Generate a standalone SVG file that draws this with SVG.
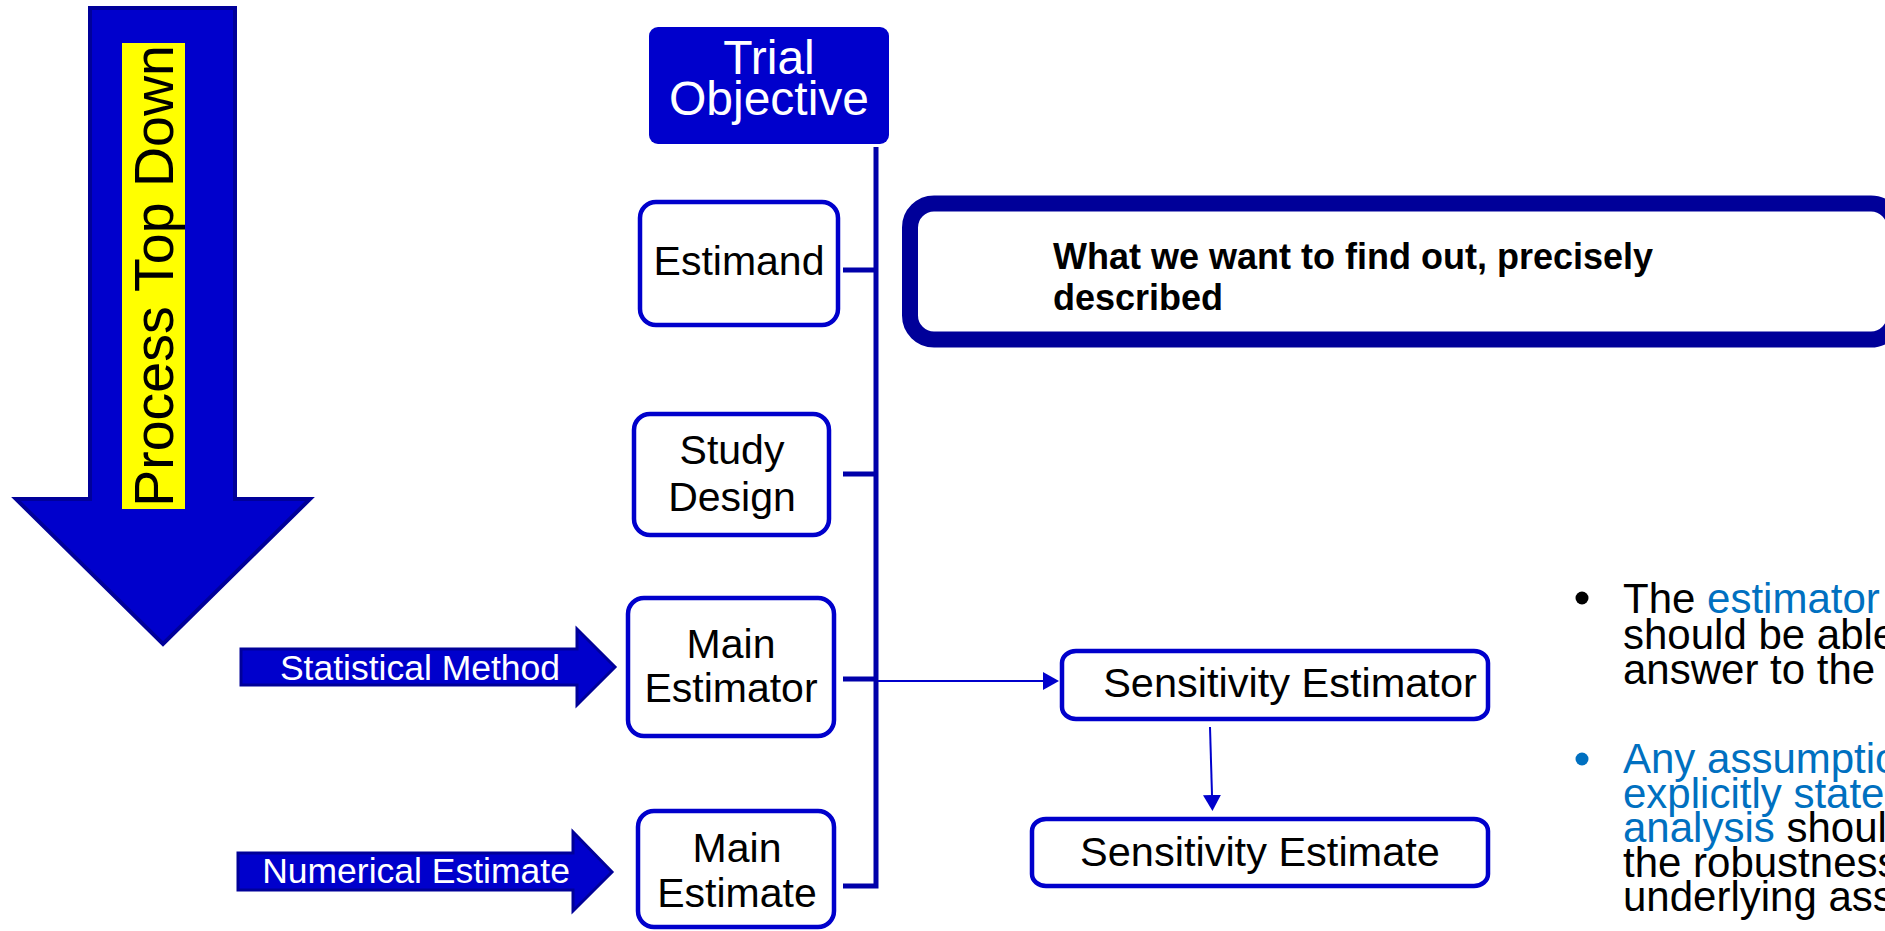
<svg xmlns="http://www.w3.org/2000/svg" width="1885" height="931" viewBox="0 0 1885 931">
  <defs>
    <style>
      .txt { font-family: "Liberation Sans", Arial, sans-serif; }
      .node { fill: #FFFFFF; stroke: #0000CC; stroke-width: 4.5; }
      .label { font-size: 41px; fill: #000000; text-anchor: middle; }
      .wide { font-size: 41.5px; fill: #000000; text-anchor: middle; }
      .block-arrow { fill: #0000CC; stroke: #000099; stroke-width: 3; stroke-linejoin: miter; }
      .block-label { font-size: 35.5px; fill: #FFFFFF; text-anchor: middle; }
      .spine { fill: none; stroke: #0000AA; stroke-width: 5; stroke-linejoin: miter; }
      .thin { fill: none; stroke: #0000CC; stroke-width: 2; }
      .note { font-size: 42px; fill: #000000; }
      .hl { fill: #0070C0; }
    </style>
    <marker id="head" viewBox="0 0 16 18" markerWidth="16" markerHeight="18" markerUnits="userSpaceOnUse" refX="0" refY="9" orient="auto">
      <path d="M0 0 L16 9 L0 18 Z" fill="#0000CC"/>
    </marker>
  </defs>

  <rect width="1885" height="931" fill="#FFFFFF"/>

  <!-- big downward process arrow -->
  <g id="process-arrow">
    <polygon points="90,8 235,8 235,499 310,499 163,644 16,499 90,499" fill="#0000CC" stroke="#000099" stroke-width="4"/>
    <rect x="122" y="43" width="63" height="466" fill="#FFFF00"/>
    <text class="txt" transform="translate(173 276) rotate(-90)" font-size="55.5" text-anchor="middle" fill="#000000">Process Top Down</text>
  </g>

  <!-- input arrows -->
  <g id="statistical-method">
    <polygon class="block-arrow" points="241,649 577,649 577,629 615,667 577,705 577,685 241,685"/>
    <text class="txt block-label" x="420" y="680">Statistical Method</text>
  </g>
  <g id="numerical-estimate">
    <polygon class="block-arrow" points="238,853 573,853 573,832 612,872 573,911 573,890 238,890"/>
    <text class="txt block-label" x="416" y="883">Numerical Estimate</text>
  </g>

  <!-- connectors -->
  <g id="connectors">
    <path class="spine" d="M843 886 H876 V147"/>
    <path class="spine" d="M843 270 H876"/>
    <path class="spine" d="M843 474 H876"/>
    <path class="spine" d="M843 679 H876"/>
    <path class="thin" d="M878 681 H1043" marker-end="url(#head)"/>
    <path class="thin" d="M1210 727 L1212 795" marker-end="url(#head)"/>
  </g>

  <!-- nodes -->
  <g id="trial-objective">
    <rect x="649" y="27" width="240" height="117" rx="9" fill="#0000CC"/>
    <text class="txt" x="769" y="74" font-size="48" text-anchor="middle" fill="#FFFFFF">Trial</text>
    <text class="txt" x="769" y="115" font-size="48" text-anchor="middle" fill="#FFFFFF">Objective</text>
  </g>

  <g id="estimand">
    <rect class="node" x="640" y="202" width="198" height="123" rx="16"/>
    <text class="txt label" x="739" y="275">Estimand</text>
  </g>

  <g id="study-design">
    <rect class="node" x="634" y="414" width="195" height="121" rx="16"/>
    <text class="txt label" x="732" y="464">Study</text>
    <text class="txt label" x="732" y="511">Design</text>
  </g>

  <g id="main-estimator">
    <rect class="node" x="628" y="598" width="206" height="138" rx="16"/>
    <text class="txt label" x="731" y="658">Main</text>
    <text class="txt label" x="731" y="702">Estimator</text>
  </g>

  <g id="main-estimate">
    <rect class="node" x="638" y="811" width="196" height="116" rx="16"/>
    <text class="txt label" x="737" y="862">Main</text>
    <text class="txt label" x="737" y="907">Estimate</text>
  </g>

  <g id="sensitivity-estimator">
    <rect class="node" x="1062" y="651" width="426" height="68" rx="14" ry="12"/>
    <text class="txt wide" x="1290" y="697">Sensitivity Estimator</text>
  </g>

  <g id="sensitivity-estimate">
    <rect class="node" x="1032" y="819" width="456" height="67" rx="14" ry="12"/>
    <text class="txt wide" x="1260" y="866">Sensitivity Estimate</text>
  </g>

  <g id="estimand-definition">
    <rect x="910" y="203.5" width="985" height="136" rx="24" fill="#FFFFFF" stroke="#000099" stroke-width="16"/>
    <text class="txt" x="1053" y="269" font-size="36" font-weight="bold" fill="#000000">What we want to find out, precisely</text>
    <text class="txt" x="1053" y="310" font-size="36" font-weight="bold" fill="#000000">described</text>
  </g>

  <!-- explanatory bullets -->
  <g id="notes">
    <circle cx="1582" cy="598" r="6.5" fill="#000000"/>
    <text class="txt note" x="1623" y="613">The <tspan class="hl">estimator</tspan></text>
    <text class="txt note" x="1623" y="648.5">should be able</text>
    <text class="txt note" x="1623" y="684">answer to the</text>

    <circle cx="1582" cy="759" r="6.5" fill="#0070C0"/>
    <text class="txt note hl" x="1623" y="773">Any assumptions</text>
    <text class="txt note hl" x="1623" y="807.5">explicitly stated</text>
    <text class="txt note" x="1623" y="842"><tspan class="hl">analysis</tspan> should</text>
    <text class="txt note" x="1623" y="876.5">the robustness</text>
    <text class="txt note" x="1623" y="911">underlying assumptions</text>
  </g>
</svg>
